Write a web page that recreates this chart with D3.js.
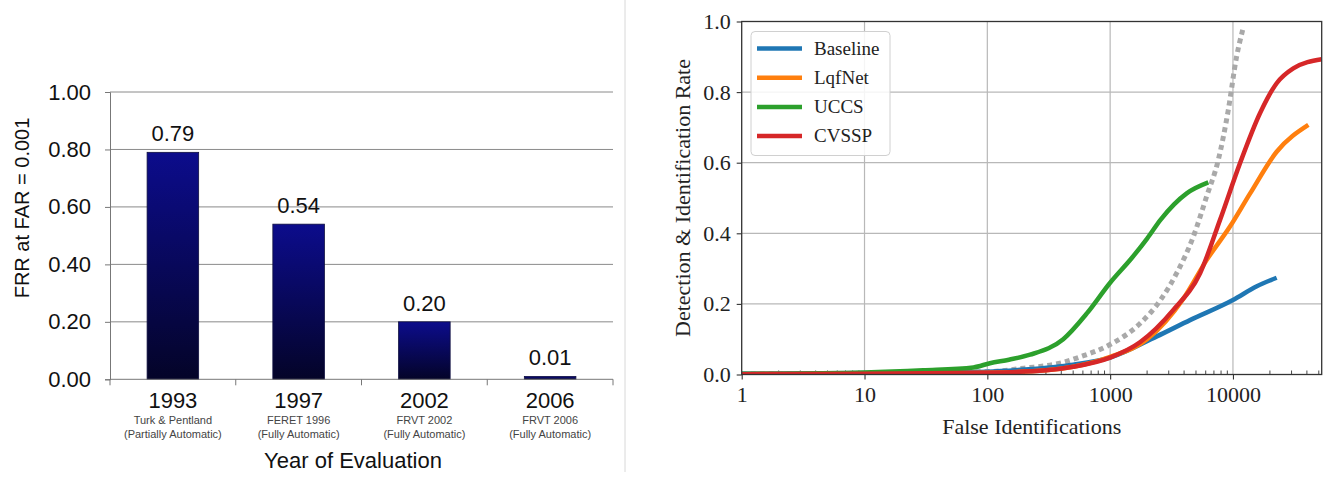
<!DOCTYPE html>
<meta charset="utf-8">
<title>FRR history and open-set identification</title>
<script src="https://d3js.org/d3.v7.min.js"></script>
<style>
  body { margin: 0; background: #fff; }
  svg { display: block; }
</style>
<body>
<div id="chart"></div>
<script>

// ---- left chart data (FRR at FAR = 0.001) ----
var years = ["1993", "1997", "2002", "2006"];
var yearNotes = ["Turk & Pentland", "FERET 1996", "FRVT 2002", "FRVT 2006"];
var yearModes = ["(Partially Automatic)", "(Fully Automatic)", "(Fully Automatic)", "(Fully Automatic)"];
var frr = [0.79, 0.54, 0.20, 0.01];
var frrTicks = [0, 0.2, 0.4, 0.6, 0.8, 1.0];

// ---- right chart data (detection & identification rate) ----
var seriesNames = ["Baseline", "LqfNet", "UCCS", "CVSSP"];
var seriesColors = ["#1f77b4", "#ff7f0e", "#2ca02c", "#d62728"];

var baselineX = [1, 10, 100, 200, 500, 1000, 2400, 4470, 10000, 15500, 22700];
var baselineY = [0.002, 0.004, 0.008, 0.014, 0.028, 0.048, 0.108, 0.154, 0.211, 0.249, 0.274];

var lqfnetX = [1, 10, 100, 300, 500, 1000, 2000, 3950, 6100, 9460, 13800, 22700, 41100];
var lqfnetY = [0.001, 0.002, 0.005, 0.012, 0.022, 0.05, 0.1, 0.215, 0.324, 0.419, 0.513, 0.631, 0.707];

var uccsX = [1, 10, 30, 77, 105, 150, 223, 415, 646, 1000, 1500, 2000, 2570, 4200, 6300];
var uccsY = [0.002, 0.006, 0.012, 0.02, 0.032, 0.042, 0.056, 0.1, 0.173, 0.26, 0.33, 0.385, 0.438, 0.513, 0.544];

var cvsspX = [1, 10, 100, 300, 500, 1000, 1760, 3270, 5400, 7850, 11400, 16600, 22700, 31000, 52800];
var cvsspY = [0.001, 0.002, 0.005, 0.012, 0.022, 0.048, 0.092, 0.183, 0.287, 0.438, 0.598, 0.74, 0.825, 0.867, 0.893];

// grey dotted reference curve (not in legend)
var refX = [1, 10, 100, 200, 400, 570, 1000, 1760, 2570, 3480, 4750, 6100, 7600, 9160, 10700, 12000];
var refY = [0.001, 0.003, 0.008, 0.018, 0.033, 0.05, 0.085, 0.145, 0.211, 0.287, 0.39, 0.504, 0.608, 0.749, 0.9, 0.976];

var xTicks = [1, 10, 100, 1000, 10000];
var yTicks = [0, 0.2, 0.4, 0.6, 0.8, 1.0];

var svg = d3.select("#chart").append("svg")
    .attr("width", 1325)
    .attr("height", 479);

// divider between the two panels
svg.append("line")
    .attr("x1", 625).attr("x2", 625)
    .attr("y1", 0).attr("y2", 472)
    .attr("stroke", "#d8d8d8").attr("stroke-width", 1);

// ================= left: bar chart =================
var sans = "'Liberation Sans', Arial, sans-serif";
var left = {x0: 110, x1: 613, y0: 379.3, y1: 92};

var xb = d3.scaleBand()
    .domain(years)
    .range([left.x0, left.x1])
    .paddingInner(0.59)
    .paddingOuter(0.295);
var yb = d3.scaleLinear().domain([0, 1]).range([left.y0, left.y1]);

var grad = svg.append("defs").append("linearGradient")
    .attr("id", "barGrad")
    .attr("x1", 0).attr("x2", 0).attr("y1", 0).attr("y2", 1);
grad.append("stop").attr("offset", "0%").attr("stop-color", "#0c0c8c");
grad.append("stop").attr("offset", "100%").attr("stop-color", "#040428");

var lg = svg.append("g");

// gridlines
lg.selectAll("line.grid")
  .data(frrTicks.slice(1))
  .enter().append("line")
    .attr("class", "grid")
    .attr("x1", left.x0).attr("x2", left.x1)
    .attr("y1", function(d) { return yb(d); })
    .attr("y2", function(d) { return yb(d); })
    .attr("stroke", "#8a8a8a").attr("stroke-width", 1);

// y axis
var yAxisL = lg.append("g")
    .attr("transform", "translate(" + left.x0 + ",0)")
    .call(d3.axisLeft(yb).tickValues(frrTicks).tickFormat(d3.format(".2f")).tickSize(5).tickPadding(14));
yAxisL.select(".domain").attr("stroke", "#777");
yAxisL.selectAll(".tick line").attr("stroke", "#777");
yAxisL.selectAll(".tick text")
    .attr("font-family", sans).attr("font-size", 22).attr("fill", "#111");

// bars
lg.selectAll("rect.bar")
  .data(frr)
  .enter().append("rect")
    .attr("class", "bar")
    .attr("x", function(d, i) { return xb(years[i]); })
    .attr("width", xb.bandwidth())
    .attr("y", function(d) { return yb(d); })
    .attr("height", function(d) { return yb(0) - yb(d); })
    .attr("fill", "url(#barGrad)")
    .attr("stroke", "#101040").attr("stroke-width", 0.8);

// value labels
lg.selectAll("text.val")
  .data(frr)
  .enter().append("text")
    .attr("class", "val")
    .attr("x", function(d, i) { return xb(years[i]) + xb.bandwidth() / 2; })
    .attr("y", function(d) { return yb(d) - 11; })
    .attr("text-anchor", "middle")
    .attr("font-family", sans).attr("font-size", 22).attr("fill", "#111")
    .text(function(d) { return d3.format(".2f")(d); });

// x axis line and category boundary ticks
lg.append("line")
    .attr("x1", left.x0).attr("x2", left.x1)
    .attr("y1", left.y0).attr("y2", left.y0)
    .attr("stroke", "#777");
var step = xb.step();
lg.selectAll("line.ctick")
  .data(d3.range(years.length + 1))
  .enter().append("line")
    .attr("class", "ctick")
    .attr("x1", function(i) { return left.x0 + i * step; })
    .attr("x2", function(i) { return left.x0 + i * step; })
    .attr("y1", left.y0).attr("y2", left.y0 + 6)
    .attr("stroke", "#777");

var cats = lg.selectAll("g.cat")
  .data(years)
  .enter().append("g")
    .attr("class", "cat")
    .attr("transform", function(d) { return "translate(" + (xb(d) + xb.bandwidth() / 2) + ",0)"; });
cats.append("text")
    .attr("y", 408).attr("text-anchor", "middle")
    .attr("font-family", sans).attr("font-size", 22).attr("fill", "#111")
    .text(function(d) { return d; });
cats.append("text")
    .attr("y", 424).attr("text-anchor", "middle")
    .attr("font-family", sans).attr("font-size", 11).attr("fill", "#444")
    .text(function(d, i) { return yearNotes[i]; });
cats.append("text")
    .attr("y", 438).attr("text-anchor", "middle")
    .attr("font-family", sans).attr("font-size", 11).attr("fill", "#444")
    .text(function(d, i) { return yearModes[i]; });

lg.append("text")
    .attr("x", 353).attr("y", 468)
    .attr("text-anchor", "middle")
    .attr("font-family", sans).attr("font-size", 22).attr("fill", "#111")
    .text("Year of Evaluation");

lg.append("text")
    .attr("transform", "translate(29,208) rotate(-90)")
    .attr("text-anchor", "middle")
    .attr("font-family", sans).attr("font-size", 20).attr("fill", "#111")
    .text("FRR at FAR = 0.001");

// ================= right: line chart =================
var serif = "'Liberation Serif', 'DejaVu Serif', serif";
var right = {x0: 741.7, x1: 1321.7, y0: 374.5, y1: 21.5};

var x = d3.scaleLog().domain([1, 52800]).range([right.x0, right.x1]);
var y = d3.scaleLinear().domain([0, 1]).range([right.y0, right.y1]);

var rg = svg.append("g");

rg.append("clipPath").attr("id", "plotClip")
  .append("rect")
    .attr("x", right.x0).attr("y", right.y1 - 3)
    .attr("width", right.x1 - right.x0).attr("height", right.y0 - right.y1 + 3);

// grid
rg.selectAll("line.vgrid")
  .data(xTicks.slice(1))
  .enter().append("line")
    .attr("x1", function(d) { return x(d); }).attr("x2", function(d) { return x(d); })
    .attr("y1", right.y0).attr("y2", right.y1)
    .attr("stroke", "#b8b8b8").attr("stroke-width", 1.2);
rg.selectAll("line.hgrid")
  .data(yTicks.slice(1, -1))
  .enter().append("line")
    .attr("x1", right.x0).attr("x2", right.x1)
    .attr("y1", function(d) { return y(d); }).attr("y2", function(d) { return y(d); })
    .attr("stroke", "#b8b8b8").attr("stroke-width", 1.2);

// axes
var xAxis = rg.append("g")
    .attr("transform", "translate(0," + right.y0 + ")")
    .call(d3.axisBottom(x).tickValues(xTicks).tickFormat(d3.format("d")).tickSize(5).tickPadding(4));
var minor = [];
for (var e = 1; e <= 10000; e *= 10) {
  for (var m = 2; m <= 9; m++) { if (m * e < 52800) minor.push(m * e); }
}
rg.selectAll("line.minor")
  .data(minor)
  .enter().append("line")
    .attr("x1", function(d) { return x(d); }).attr("x2", function(d) { return x(d); })
    .attr("y1", right.y0).attr("y2", right.y0 - 4)
    .attr("stroke", "#333").attr("stroke-width", 0.9);

var yAxis = rg.append("g")
    .attr("transform", "translate(" + right.x0 + ",0)")
    .call(d3.axisLeft(y).tickValues(yTicks).tickFormat(d3.format(".1f")).tickSize(5).tickPadding(6));

[xAxis, yAxis].forEach(function(a) {
  a.select(".domain").remove();
  a.selectAll(".tick line").attr("stroke", "#333").attr("stroke-width", 1.1);
  a.selectAll(".tick text")
      .attr("font-family", serif).attr("font-size", 22).attr("fill", "#222");
});
xAxis.selectAll(".tick text").attr("dy", "0.85em");

// lines
var line = d3.line()
    .x(function(d) { return x(d[0]); })
    .y(function(d) { return y(d[1]); })
    .curve(d3.curveMonotoneX);

function pairs(xs, ys) { return xs.map(function(v, i) { return [v, ys[i]]; }); }

var curves = [
  pairs(baselineX, baselineY),
  pairs(lqfnetX, lqfnetY),
  pairs(uccsX, uccsY),
  pairs(cvsspX, cvsspY)
];

var plot = rg.append("g").attr("clip-path", "url(#plotClip)");

plot.append("path")
    .datum(pairs(refX, refY))
    .attr("d", line)
    .attr("fill", "none")
    .attr("stroke", "#a9a9a9")
    .attr("stroke-width", 5)
    .attr("stroke-dasharray", "5,4");

plot.selectAll("path.series")
  .data(curves)
  .enter().append("path")
    .attr("class", "series")
    .attr("d", line)
    .attr("fill", "none")
    .attr("stroke", function(d, i) { return seriesColors[i]; })
    .attr("stroke-width", 4.5)
    .attr("stroke-linejoin", "round");

// frame
rg.append("rect")
    .attr("x", right.x0).attr("y", right.y1)
    .attr("width", right.x1 - right.x0).attr("height", right.y0 - right.y1)
    .attr("fill", "none").attr("stroke", "#333").attr("stroke-width", 1.3);

// legend
var leg = rg.append("g").attr("transform", "translate(751,31.5)");
leg.append("rect")
    .attr("width", 139).attr("height", 124).attr("rx", 4)
    .attr("fill", "#fff").attr("fill-opacity", 0.85)
    .attr("stroke", "#d0d0d0");
var items = leg.selectAll("g.item")
  .data(seriesNames)
  .enter().append("g")
    .attr("class", "item")
    .attr("transform", function(d, i) { return "translate(0," + (17 + i * 29.2) + ")"; });
items.append("line")
    .attr("x1", 6).attr("x2", 51)
    .attr("stroke", function(d, i) { return seriesColors[i]; })
    .attr("stroke-width", 4.5);
items.append("text")
    .attr("x", 63).attr("dy", "0.33em")
    .attr("font-family", serif).attr("font-size", 19).attr("fill", "#222")
    .text(function(d) { return d; });

// axis titles
rg.append("text")
    .attr("x", (right.x0 + right.x1) / 2).attr("y", 434)
    .attr("text-anchor", "middle")
    .attr("font-family", serif).attr("font-size", 22).attr("fill", "#222")
    .text("False Identifications");
rg.append("text")
    .attr("transform", "translate(690," + ((right.y0 + right.y1) / 2) + ") rotate(-90)")
    .attr("text-anchor", "middle")
    .attr("font-family", serif).attr("font-size", 22).attr("fill", "#222")
    .text("Detection & Identification Rate");

</script>
</body>
